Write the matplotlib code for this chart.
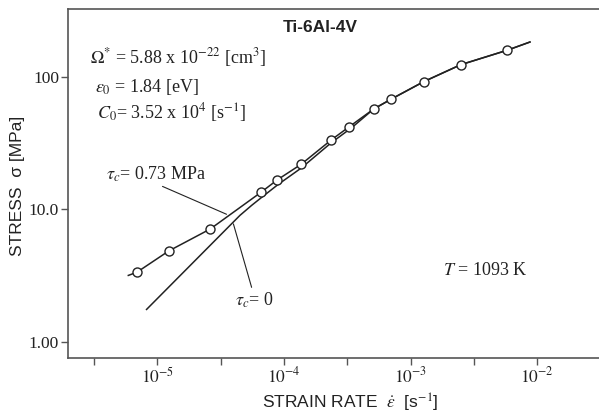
import matplotlib
matplotlib.use("Agg")
import matplotlib.pyplot as plt
import numpy as np

plt.rcParams['font.family'] = ['Liberation Serif', 'DejaVu Serif']
plt.rcParams['mathtext.fontset'] = 'stix'

# measured points (strain rate [1/s], stress [MPa])
rate_data = [6.9e-6, 1.23e-5, 2.62e-5, 6.6e-5, 8.85e-5, 1.37e-4, 2.37e-4,
             3.28e-4, 5.12e-4, 7.05e-4, 1.27e-3, 2.49e-3, 5.81e-3]
stress_data = [3.34, 4.83, 7.08, 13.4, 16.6, 21.8, 33.3,
               41.8, 56.9, 67.6, 91.4, 122.7, 157.9]

# fitted curve, tau_c = 0.73 MPa
rate_fit1 = [5.9e-6, 6.9e-6, 1.23e-5, 2.62e-5, 6.6e-5, 8.85e-5, 1.37e-4, 2.37e-4,
             3.28e-4, 5.12e-4, 7.05e-4, 1.27e-3, 2.49e-3, 5.81e-3, 8.77e-3]
stress_fit1 = [3.16, 3.34, 4.83, 7.08, 13.4, 16.6, 21.8, 33.3,
               41.8, 56.9, 67.6, 91.4, 122.7, 157.9, 182]

# fitted curve, tau_c = 0
rate_fit0 = [8.22e-6, 4.49e-5, 5.58e-5, 6.7e-5, 8.97e-5, 1.37e-4, 2.35e-4,
             3.44e-4, 5.12e-4, 7.05e-4, 1.27e-3, 2.49e-3, 5.81e-3, 8.77e-3]
stress_fit0 = [1.75, 8.96, 10.7, 12.3, 15.3, 20.4, 31.5,
               41.2, 56.9, 67.6, 91.4, 122.7, 157.9, 182]

xticks_major = [1e-5, 1e-4, 1e-3, 1e-2]
xtick_labels = ['$10^{-5}$', '$10^{-4}$', '$10^{-3}$', '$10^{-2}$']
xticks_minor = [10**-5.5, 10**-4.5, 10**-3.5, 10**-2.5]
yticks = [1, 10, 100]
ytick_labels = ['1.00', '10.0', '100']

fig = plt.figure(figsize=(5.99, 4.13), dpi=100)
ax = fig.add_axes([68/599, 1 - 357.7/413, 531/599, 348.7/413])

lc = '#222222'
ax.plot(rate_fit1, stress_fit1, color=lc, lw=1.1)
ax.plot(rate_fit0, stress_fit0, color=lc, lw=1.1)
ax.plot(rate_data, stress_data, 'o', ms=6.5, mfc='white', mec=lc, mew=1.0)

ax.set_xscale('log')
ax.set_yscale('log')
ax.set_xlim(1.97e-6, 3.08e-2)
ax.set_ylim(0.757, 323)

ax.set_xticks(xticks_major)
ax.set_xticklabels(xtick_labels)
ax.set_xticks(xticks_minor, minor=True)
ax.xaxis.set_minor_formatter(matplotlib.ticker.NullFormatter())
ax.set_yticks(yticks)
ax.set_yticklabels(ytick_labels)
ax.yaxis.set_minor_locator(matplotlib.ticker.NullLocator())

sc = '#555555'
for s in ['left', 'bottom', 'top']:
    ax.spines[s].set_color(sc)
    ax.spines[s].set_linewidth(1.2)
ax.spines['right'].set_visible(False)
ax.tick_params(axis='x', which='both', direction='out', length=5, width=1,
               color=sc, labelsize=12.5, pad=1.5, labelcolor='#222222')
ax.tick_params(axis='y', which='both', direction='out', length=5, width=1,
               color=sc, labelsize=12.5, pad=1.5, labelcolor='#222222')

ax.set_xlabel(r'STRAIN RATE  $\dot{\varepsilon}$  [s$^{-1}$]', family='Liberation Sans',
              fontsize=12.5, color='#222222', va='center')
ax.xaxis.set_label_coords(0.531, -0.13)
ax.set_ylabel('STRESS  σ [MPa]', family='Liberation Sans', fontsize=12.5,
              color='#222222', va='center', ha='center')
ax.yaxis.set_label_coords(-0.095, 0.492)

ax.text(0.4746, 0.948, 'Ti-6Al-4V', transform=ax.transAxes, ha='center', va='center',
        family='Liberation Sans', fontweight='bold', fontsize=12.5, color='#222222')
tk = dict(transform=ax.transAxes, ha='left', va='center', fontsize=13, color='#222222')
ax.text(0.0414, 0.862, r'$\mathit{\Omega}^{*}$ = 5.88 x 10$^{-22}$ [cm$^{3}$]', **tk)
ax.text(0.0508, 0.776, r'$\epsilon_0$ = 1.84 [eV]', **tk)
ax.text(0.0546, 0.702, r'$C_0$= 3.52 x 10$^{4}$ [s$^{-1}$]', **tk)
ax.text(0.706, 0.249, r'$T$ = 1093 K', **tk)

ax.annotate(r'$\tau_c$= 0.73 MPa', xy=(3.52e-5, 9.14), xytext=(0.0716, 0.527),
            textcoords='axes fraction', ha='left', va='center', fontsize=13, color='#222222',
            arrowprops=dict(arrowstyle='-', color=lc, lw=0.8, shrinkA=0, shrinkB=0,
                            relpos=(0.5, 0)))
ax.annotate(r'$\tau_c$= 0', xy=(3.99e-5, 7.73), xytext=(0.3145, 0.166),
            textcoords='axes fraction', ha='left', va='center', fontsize=13, color='#222222',
            arrowprops=dict(arrowstyle='-', color=lc, lw=0.8, shrinkA=0, shrinkB=0,
                            relpos=(0.45, 1.0)))

fig.savefig('out.png', dpi=100)
